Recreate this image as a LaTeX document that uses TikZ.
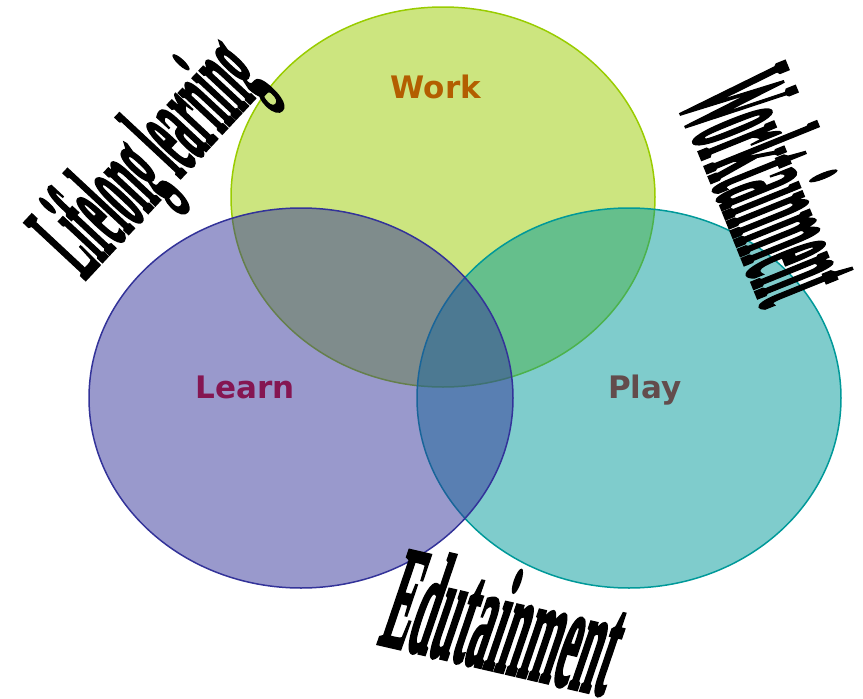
\documentclass[tikz,border=0pt]{standalone}
\usepackage{fontspec}
\newfontfamily\labelfont{DejaVu Sans}
\newfontfamily\artfont{Liberation Serif}[BoldFeatures={FakeBold=3}]

\definecolor{workline}{HTML}{99CC00}
\definecolor{learnline}{HTML}{333399}
\definecolor{playline}{HTML}{009999}
\definecolor{worktext}{HTML}{B35E00}
\definecolor{learntext}{HTML}{851652}
\definecolor{playtext}{HTML}{634C4C}

\tikzset{
  setshape/.style={draw=#1, fill=#1, fill opacity=0.5, line width=1.5pt},
  setlabel/.style={text=#1, anchor=base, inner sep=0pt, font=\labelfont\bfseries\fontsize{31}{31}\selectfont},
  wordart/.style={anchor=base, inner sep=0pt, text=black}
}

\begin{document}
\begin{tikzpicture}[x=1pt, y=-1pt]
        \useasboundingbox (0,0) rectangle (863,699);

        % the three sets
        \draw[setshape=workline] (443,197) ellipse [x radius=212, y radius=190];
        \draw[setshape=playline] (629,398) ellipse [x radius=212, y radius=190];
        \draw[setshape=learnline] (301,398) ellipse [x radius=212, y radius=190];

        \node[setlabel=worktext] (work) at (436,98) {Work};
        \node[setlabel=learntext] (learn) at (245,398) {Learn};
        \node[setlabel=playtext] (play) at (645,398) {Play};

        % the overlaps
        \node[wordart, rotate=47, xscale=0.29, font=\artfont\bfseries\fontsize{126}{126}\selectfont] (lifelong) at (176,182) {Lifelong learning};
        \node[wordart, rotate=-68, xscale=0.21, font=\artfont\bfseries\fontsize{170}{170}\selectfont] (worktainment) at (722,206) {Worktainment};
        \node[wordart, rotate=-13, xslant=0.1, xscale=0.28, font=\artfont\bfseries\fontsize{148}{148}\selectfont] (edutainment) at (490,669) {Edutainment};

\end{tikzpicture}
\end{document}
